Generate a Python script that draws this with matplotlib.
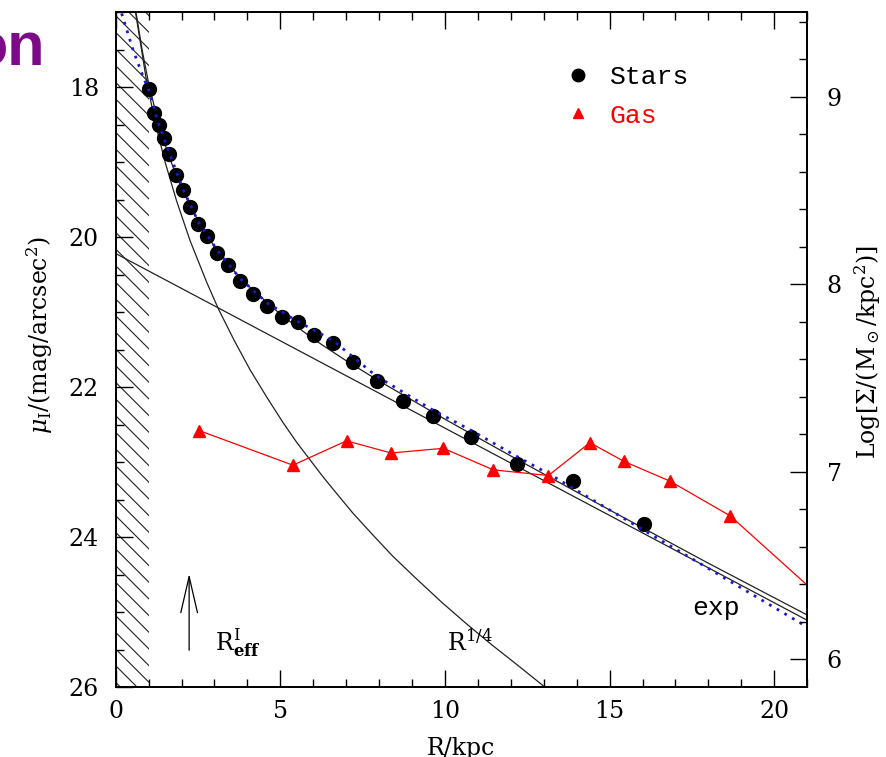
import matplotlib
matplotlib.use("Agg")
import matplotlib.pyplot as plt
from matplotlib.lines import Line2D
from matplotlib.ticker import MultipleLocator

plt.rcParams['font.family'] = 'DejaVu Serif'
plt.rcParams['mathtext.fontset'] = 'dejavuserif'
plt.rcParams['hatch.linewidth'] = 0.8

# stellar surface brightness profile (mag/arcsec^2)
star_r = [1.02, 1.16, 1.31, 1.47, 1.63, 1.83, 2.03, 2.26, 2.51, 2.78, 3.09, 3.41, 3.77, 4.16,
          4.60, 5.06, 5.53, 6.02, 6.59, 7.20, 7.93, 8.73, 9.64, 10.79, 12.18, 13.88, 16.04]
star_mu = [18.03, 18.35, 18.50, 18.68, 18.89, 19.17, 19.37, 19.60, 19.83, 19.99, 20.21, 20.37, 20.59, 20.76,
           20.92, 21.06, 21.13, 21.31, 21.41, 21.67, 21.92, 22.18, 22.39, 22.67, 23.03, 23.25, 23.82]

# gas surface density, log(Msun/kpc^2)
gas_r = [2.53, 5.38, 7.01, 8.36, 9.95, 11.47, 13.14, 14.40, 15.44, 16.83, 18.66, 21.6]
gas_logsig = [7.22, 7.035, 7.165, 7.10, 7.125, 7.01, 6.98, 7.155, 7.055, 6.95, 6.765, 6.30]

# fitted components
exp_r = [0.0, 21.0]
exp_mu = [20.22, 25.11]

r14_r = [0.59, 0.94, 1.24, 1.50, 1.85, 2.26, 2.76, 3.12, 3.60, 4.08, 4.58, 5.09, 5.5, 5.90, 6.3,
         6.71, 7.2, 7.72, 8.4, 9.14, 9.9, 10.66, 11.4, 12.18, 13.2]
r14_mu = [16.97, 17.93, 18.55, 19.00, 19.52, 20.05, 20.60, 20.96, 21.38, 21.77, 22.13, 22.48, 22.74,
          22.97, 23.20, 23.42, 23.68, 23.93, 24.25, 24.56, 24.87, 25.16, 25.43, 25.70, 26.06]

tot_r = [0.6, 0.8, 1.0, 1.25, 1.5, 1.75, 2.0, 2.5, 3.0, 3.5, 4.0, 5.0, 6.0, 7.0, 8.0, 10.0,
         12.0, 15.0, 18.0, 21.0]
tot_mu = [16.96, 17.50, 17.95, 18.40, 18.77, 19.08, 19.35, 19.78, 20.13, 20.41, 20.64, 21.03, 21.36,
          21.65, 21.92, 22.43, 22.92, 23.64, 24.35, 25.04]

blue_r = [0.18, 0.53, 0.84, 1.02, 1.31, 1.63, 2.03, 2.51, 3.09, 3.77, 4.6, 5.5, 6.6, 7.9, 9.6,
          10.8, 12.2, 13.2, 16.0, 18.5, 21.0]
blue_mu = [17.02, 17.51, 17.87, 18.06, 18.50, 18.88, 19.35, 19.80, 20.18, 20.55, 20.88, 21.12, 21.38,
           21.85, 22.30, 22.58, 22.93, 23.17, 23.90, 24.55, 25.20]

fig = plt.figure(figsize=(8.86, 7.57), dpi=100)
ax = fig.add_axes([115.7 / 886, 1 - 687 / 757, 691.5 / 886, 675 / 757])
ax2 = ax.twinx()

# inner region hatched
ax.axvspan(0, 1, facecolor='none', edgecolor='#222222', linewidth=0, hatch='\\\\')

ax.plot(exp_r, exp_mu, color='#222222', lw=0.9)
ax.plot(r14_r, r14_mu, color='#222222', lw=0.9)
ax.plot(tot_r, tot_mu, color='#222222', lw=0.9)
ax.plot(star_r, star_mu, 'o', color='black', ms=10, zorder=4)
ax.plot(blue_r, blue_mu, color='#1a1ad0', lw=2.0, linestyle=(0, (1, 2.2)), zorder=5)

ax2.plot(gas_r, gas_logsig, '-^', color='red', ms=8, lw=0.9)

ax.set_xlim(0, 21)
ax.set_ylim(26, 17)
ax2.set_ylim(5.852, 9.452)

ax.xaxis.set_major_locator(MultipleLocator(5))
ax.xaxis.set_minor_locator(MultipleLocator(1))
ax.yaxis.set_major_locator(MultipleLocator(2))
ax.yaxis.set_minor_locator(MultipleLocator(0.5))
ax2.yaxis.set_major_locator(MultipleLocator(1))
ax2.yaxis.set_minor_locator(MultipleLocator(0.2))

ax.tick_params(which='both', direction='in', top=True, right=False, labelsize=17)
ax.tick_params(which='major', length=12, width=1.0)
ax.tick_params(which='minor', length=6, width=1.0)
ax.tick_params(axis='x', pad=9)
ax.tick_params(axis='y', pad=12)
ax2.tick_params(which='both', direction='in', labelsize=17, pad=14)
ax2.tick_params(which='major', length=12, width=1.0)
ax2.tick_params(which='minor', length=6, width=1.0)
for a in (ax, ax2):
    for s in a.spines.values():
        s.set_linewidth(1.3)

# annotations
ax.annotate('', xy=(2.23, 24.49), xytext=(2.23, 25.51),
            arrowprops=dict(arrowstyle='->,head_length=2.6,head_width=0.6', color='black',
                            lw=0.9, mutation_scale=10, shrinkA=0, shrinkB=0))
ax.text(3.02, 25.51, r'R$^{\rm I}_{\bf eff}$', fontsize=17, ha='left', va='baseline')
ax.text(10.07, 25.51, r'R$^{1/4}$', fontsize=17, ha='left', va='baseline')
ax.text(17.52, 24.94, 'exp', fontsize=19, ha='left', va='center', family='Liberation Mono')

handles = [Line2D([], [], marker='o', ls='none', color='black', ms=9),
           Line2D([], [], marker='^', ls='none', color='red', ms=7)]
ax.legend(handles, ['Stars', 'Gas'], loc='upper left', bbox_to_anchor=(565 / 886, 1 - 65 / 757),
          bbox_transform=fig.transFigure, frameon=False, handlelength=0.95, handletextpad=0.75,
          labelspacing=0.55, borderpad=0, borderaxespad=0, labelcolor=['black', 'red'],
          prop={'family': 'Liberation Mono', 'size': 19})

fig.text(40 / 886, 1 - 335 / 757, r'$\mu_{\rm I}$/(mag/arcsec$^2$)', rotation=90,
         fontsize=17, ha='center', va='center')
fig.text(868 / 886, 1 - 352 / 757, r'Log[$\Sigma$/(M$_\odot$/kpc$^2$)]', rotation=90,
         fontsize=17, ha='center', va='center')
fig.text(461 / 886, 1 - 737 / 757, 'R/kpc', fontsize=17, ha='center', va='top')
fig.text(45 / 886, 1 - 66 / 757, 'on', fontsize=44, fontweight='bold', color='#7d0a87',
         family='Liberation Sans', ha='right', va='baseline')

fig.savefig('out.png', dpi=100)
